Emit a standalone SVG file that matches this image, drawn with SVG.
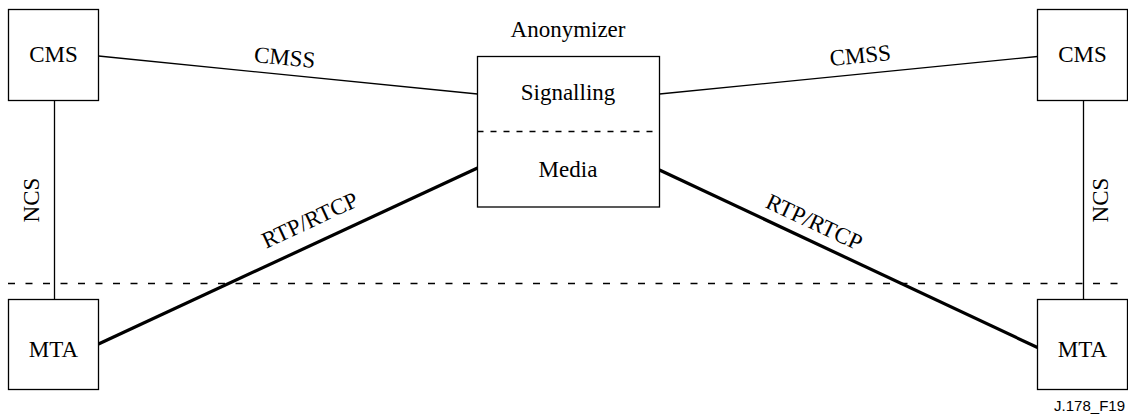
<svg xmlns="http://www.w3.org/2000/svg" width="1128" height="417" viewBox="0 0 1128 417">
<style>
.box{fill:#fff;stroke:#000;stroke-width:1.3}
.t{font-family:'Liberation Serif','Times New Roman',serif;font-size:23px;fill:#000;text-anchor:middle}
.thin{stroke:#000;stroke-width:1.3;fill:none}
.thick{stroke:#000;stroke-width:3.2;fill:none}
.dash{stroke:#000;stroke-width:1.3;stroke-dasharray:7 10.5;fill:none}
</style>
<rect width="1128" height="417" fill="#fff"/>
<g id="connectors">
<line class="thin" x1="98.5" y1="56" x2="477.5" y2="94"/>
<line class="thin" x1="659.5" y1="94" x2="1037.5" y2="56.5"/>
<line class="thin" x1="54.5" y1="100.5" x2="54.5" y2="299.5"/>
<line class="thin" x1="1083.5" y1="100.5" x2="1083.5" y2="299.5"/>
<line class="thick" x1="98.5" y1="344" x2="477.5" y2="168"/>
<line class="thick" x1="659.5" y1="170" x2="1037.5" y2="347.5"/>
<line class="dash" x1="8" y1="283.5" x2="1128" y2="283.5"/>
<text class="t" transform="translate(284,65) rotate(5.7)">CMSS</text>
<text class="t" transform="translate(861,63) rotate(-5.7)">CMSS</text>
<text class="t" transform="translate(39,200) rotate(-90)">NCS</text>
<text class="t" transform="translate(1108,200) rotate(-90)">NCS</text>
<text class="t" transform="translate(313,227) rotate(-24.9)">RTP/RTCP</text>
<text class="t" transform="translate(811,229) rotate(25.1)">RTP/RTCP</text>
</g>
<g id="cms-left">
<rect class="box" x="8.5" y="9.5" width="90" height="91"/>
<text class="t" x="53.5" y="62">CMS</text>
</g>
<g id="cms-right">
<rect class="box" x="1037.5" y="9.5" width="90" height="91"/>
<text class="t" x="1082.5" y="62">CMS</text>
</g>
<g id="mta-left">
<rect class="box" x="8.5" y="299.5" width="90" height="90"/>
<text class="t" x="53.5" y="357">MTA</text>
</g>
<g id="mta-right">
<rect class="box" x="1037.5" y="299.5" width="90" height="90"/>
<text class="t" x="1082.5" y="357">MTA</text>
</g>
<g id="anonymizer">
<text class="t" x="568" y="37">Anonymizer</text>
<rect class="box" x="477.5" y="56.5" width="182" height="150.5"/>
<line x1="477.5" y1="131.5" x2="659.5" y2="131.5" stroke="#000" stroke-width="1.3" stroke-dasharray="6 7"/>
<text class="t" x="568" y="100">Signalling</text>
<text class="t" x="568" y="177">Media</text>
</g>
<text x="1125" y="411" font-family="'Liberation Sans', Arial, sans-serif" font-size="15" text-anchor="end" fill="#000">J.178_F19</text>
</svg>
